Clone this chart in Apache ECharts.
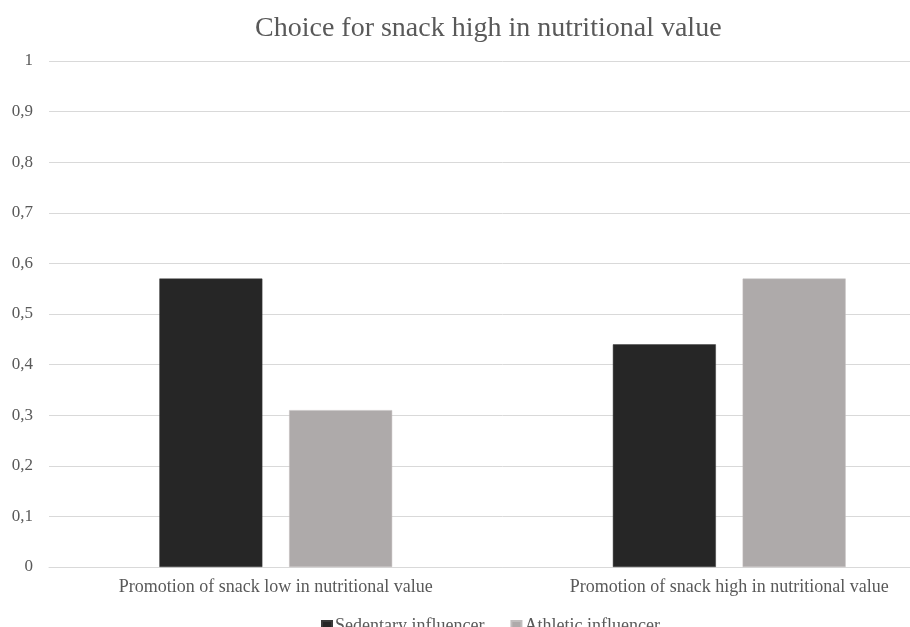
<!DOCTYPE html>
<html>
<head>
<meta charset="utf-8">
<style>
  html, body { margin: 0; padding: 0; background: #ffffff; overflow: hidden; }
  #frame { width: 910px; height: 627px; overflow: hidden; }
  /* the plot runs past the right edge of the frame */
  #chart { width: 956px; height: 627px; }
</style>
<script src="https://cdn.jsdelivr.net/npm/echarts@6/dist/echarts.min.js"></script>
</head>
<body>
<div id="frame"><div id="chart"></div></div>
<script>
// Share choosing the nutritious snack, by promoted snack and influencer type
const categories = [
  'Promotion of snack low in nutritional value',
  'Promotion of snack high in nutritional value'
];
const sedentary = [0.57, 0.44];
const athletic = [0.31, 0.57];
const seriesNames = ['Sedentary influencer', 'Athletic influencer'];

const serif = '"Liberation Serif", "Times New Roman", serif';
const textGrey = '#595959';

const chart = echarts.init(document.getElementById('chart'), null, { renderer: 'canvas' });

chart.setOption({
  animation: false,
  backgroundColor: '#ffffff',
  title: {
    text: 'Choice for snack high in nutritional value',
    left: 250,
    top: 10,
    textStyle: { fontFamily: serif, fontSize: 28, fontWeight: 'normal', color: textGrey }
  },
  legend: {
    data: seriesNames,
    left: 316,
    top: 612,
    itemWidth: 10,
    itemHeight: 10,
    itemGap: 26,
    icon: 'rect',
    textStyle: { fontFamily: serif, fontSize: 18, color: textGrey, padding: [0, 0, 0, -2] }
  },
  grid: { left: 49, right: 0, top: 61, bottom: 60, containLabel: false },
  xAxis: {
    type: 'category',
    data: categories,
    axisLine: { show: true, lineStyle: { color: '#d9d9d9', width: 1 } },
    axisTick: { show: false },
    axisLabel: { fontFamily: serif, fontSize: 18, color: textGrey, margin: 11, interval: 0 }
  },
  yAxis: {
    type: 'value',
    min: 0,
    max: 1,
    interval: 0.1,
    axisLine: { show: false },
    axisTick: { show: false },
    splitLine: { lineStyle: { color: '#d9d9d9', width: 1 } },
    axisLabel: {
      fontFamily: serif, fontSize: 17, color: textGrey, margin: 16,
      formatter: v => String(Math.round(v * 10) / 10).replace('.', ',')
    }
  },
  series: [
    {
      name: seriesNames[0],
      type: 'bar',
      data: sedentary,
      barWidth: 103,
      barGap: '26%',
      itemStyle: { color: '#262626', borderColor: '#3a3a3a', borderWidth: 0.5 }
    },
    {
      name: seriesNames[1],
      type: 'bar',
      data: athletic,
      barWidth: 103,
      itemStyle: { color: '#aeaaaa', borderColor: '#c0bdbd', borderWidth: 0.5 }
    }
  ]
});
</script>
</body>
</html>
